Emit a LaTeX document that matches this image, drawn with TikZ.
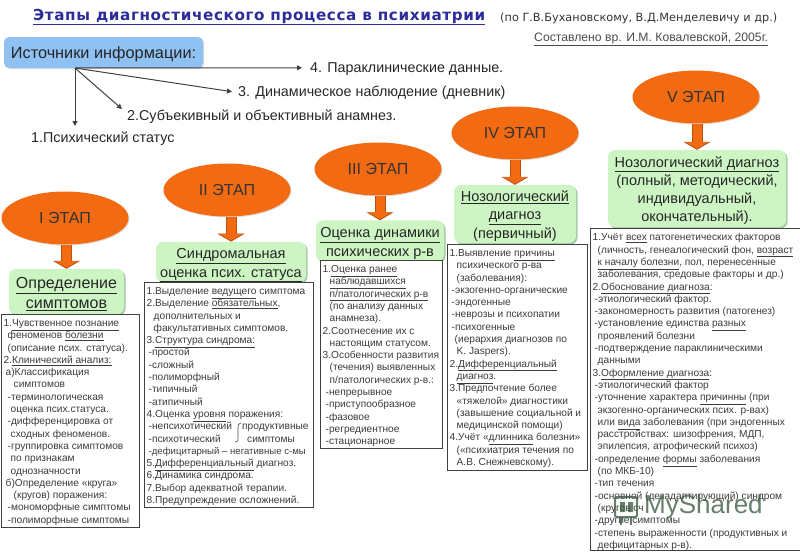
\documentclass[tikz,border=0pt]{standalone}
\usepackage{fontspec}
\setmainfont{Liberation Sans}
\newfontfamily\titlefont[LetterSpace=4]{DejaVu Sans}
\newfontfamily\subfont{DejaVu Sans}
\usetikzlibrary{arrows.meta,shadows,calc,shapes.geometric}
\definecolor{orangeE}{HTML}{F26A12}
\definecolor{orangeD}{HTML}{B9530F}
\definecolor{greenB}{HTML}{CDF5C4}
\definecolor{blueB}{HTML}{8FC1F2}
\definecolor{bodytxt}{HTML}{3C3C3C}
\definecolor{titleblue}{HTML}{2C2C9C}
\definecolor{wmcol}{HTML}{3F5F45}
\newcommand\und[1]{\underline{#1}}
\newcommand\ii[1]{\hspace*{#1pt}}
\newcommand\lift[1]{\rule{0pt}{#1pt}}
\tikzset{
 x=1pt,y=-1pt,
 stage/.style={ellipse,fill=orangeE,minimum width=127pt,minimum height=53pt,inner sep=0pt,text=black!80,font=\fontsize{16}{18}\selectfont,
   drop shadow={shadow xshift=1pt,shadow yshift=-1pt,opacity=.25}},
 goal/.style={rectangle,rounded corners=7pt,fill=greenB,align=center,inner sep=0pt,text=black!85,font=\fontsize{14.5}{18.3}\selectfont,
   drop shadow={shadow xshift=1.5pt,shadow yshift=-1.5pt,opacity=.35,fill=black!60!green}},
 detail/.style={rectangle,draw=black!75,line width=.8pt,fill=white,anchor=north west,inner sep=0pt},
 detailtext/.style={anchor=north west,align=left,inner sep=0pt,text=bodytxt,font=\fontsize{10.15}{12.3}\selectfont},
 blockarrow/.style={orangeD,line width=11pt,-{Triangle[length=8pt,width=27pt]},
   postaction={draw=orangeE,line width=9pt,shorten >=1.2pt,-{Triangle[length=6.6pt,width=23pt]}}},
 thin arrow/.style={draw=black!75,line width=1pt,-{Triangle[length=5pt,width=5pt]}},
 srclabel/.style={font=\fontsize{14.3}{16}\selectfont,text=black!85,inner ysep=0pt,text height=11pt,text depth=2pt},
}
\newcommand\detailblock[6]{%
  \node[detail,minimum width=#4pt,minimum height=#5pt] (#1) at (#2,#3) {};
  \node[detailtext] (#1t) at ($(#1.north west)+(2.5,5.3)$) {#6};}
\begin{document}
\begin{tikzpicture}
\useasboundingbox (0,0) rectangle (800,554);
% title
\node[anchor=west,inner sep=0pt,text=titleblue,font=\titlefont\fontsize{15.2}{17}\selectfont\bfseries] (title) at (33,17) {\und{Этапы диагностического процесса в психиатрии}};
\node[anchor=west,inner sep=0pt,text=black!80,font=\subfont\fontsize{11.3}{13}\selectfont] (credit) at (500,18) {(по Г.В.Бухановскому, В.Д.Менделевичу и др.)};
\node[anchor=west,inner sep=0pt,text=black!70,font=\fontsize{12.2}{14}\selectfont] (author) at (534,39) {\und{Составлено вр. И.М. Ковалевской, 2005г.}};
% sources
\node[rectangle,rounded corners=5pt,fill=blueB,minimum width=199pt,minimum height=31pt,inner sep=0pt,text=black!85,text height=13pt,text depth=1pt,font=\fontsize{16.3}{18}\selectfont,
  drop shadow={shadow xshift=1pt,shadow yshift=-1pt,opacity=.3}] (src) at (103.5,52.5) {Источники информации:};
\coordinate (hub) at (75,68);
\node[srclabel,anchor=west,inner xsep=8pt] (s4) at (302,67.8) {4. Параклинические данные.};
\node[srclabel,anchor=west,inner xsep=6pt] (s3) at (232,91.7) {3. Динамическое наблюдение (дневник)};
\node[srclabel,anchor=north west,inner xsep=5pt] (s2) at (122,109) {2.Субъекивный и объективный анамнез.};
\node[srclabel,anchor=west,inner xsep=0pt] (s1) at (31,138.3) {1.Психический статус};
\coordinate (s1top) at (75,126);
\draw[thin arrow] (hub) -- (s4.west);
\draw[thin arrow] (hub) -- (s3.west);
\draw[thin arrow] (hub) -- (s2.north west);
\draw[thin arrow] (hub) -- (s1top);
% stages
\node[stage] (e1) at (65,218) {I ЭТАП};
\node[stage] (e2) at (227,190) {II ЭТАП};
\node[stage] (e3) at (378,169) {III ЭТАП};
\node[stage] (e4) at (515,133) {IV ЭТАП};
\node[stage] (e5) at (696,97) {V ЭТАП};
% goals
\node[goal,minimum width=115pt,minimum height=45pt,font=\fontsize{16}{20}\selectfont] (g1) at (66.5,291.5) {\lift{16}\und{Определение}\\\und{симптомов}};
\node[goal,minimum width=150pt,minimum height=38pt] (g2) at (231,262) {\lift{17}\und{Синдромальная}\\\und{оценка псих. статуса}};
\node[goal,minimum width=128pt,minimum height=38pt,font=\fontsize{14.5}{19}\selectfont] (g3) at (380,241) {\lift{17}\und{Оценка динамики}\\\und{психических р-в}};
\node[goal,minimum width=122pt,minimum height=58pt] (g4) at (515,214) {\lift{15}\und{Нозологический}\\\und{диагноз}\\(первичный)};
\node[goal,minimum width=178pt,minimum height=77pt] (g5) at (697,188.5) {\lift{15}\und{Нозологический диагноз}\\(полный, методический,\\индивидуальный,\\окончательный).};
% block arrows
\draw[blockarrow] (g1.north |- e1.south) -- (g1.north);
\draw[blockarrow] (g2.north |- e2.south) -- (g2.north);
\draw[blockarrow] (g3.north |- e3.south) -- (g3.north);
\draw[blockarrow] (g4.north |- e4.south) -- (g4.north);
\draw[blockarrow] (g5.north |- e5.south) -- (g5.north);
% detail boxes
\detailblock{d1}{1}{314}{138}{213}{%
1.\und{Чувственное познание}\\
\ii{4}феноменов \und{болезни}\\
\ii{4}(описание псих. статуса).\\
2.\und{Клинический анализ:}\\
\ii{2}а)Классификация\\
\ii{10}симптомов\\
\ii{4}-терминологическая\\
\ii{7}оценка псих.статуса.\\
\ii{4}-дифференцировка от\\
\ii{7}сходных феноменов.\\
\ii{4}-группировка симптомов\\
\ii{7}по признакам\\
\ii{7}однозначности\\
\ii{2}б)Определение «круга»\\
\ii{10}(кругов) поражения:\\
\ii{4}-мономорфные симптомы\\
\ii{4}-полиморфные симптомы}
\detailblock{d2}{144}{282}{169}{225}{%
1.Выделение \und{ведущего} симптома\\
2.Выделение \und{обязательных},\\
\ii{7}дополнительных и\\
\ii{7}факультативных симптомов.\\
3.\und{Структура синдрома:}\\
\ii{2}-простой\\
\ii{2}-сложный\\
\ii{2}-полиморфный\\
\ii{2}-типичный\\
\ii{2}-атипичный\\
4.Оценка \und{уровня} поражения:\\
\ii{2}\makebox[93.5pt][l]{-непсихотический}продуктивные\\
\ii{2}\makebox[98.5pt][l]{-психотический}симптомы\\
\ii{2}{\fontsize{9.6}{12.3}\selectfont -дефицитарный -- негативные с-мы}\\
5.\und{Дифференциальный} диагноз.\\
6.Динамика синдрома.\\
7.Выбор адекватной терапии.\\
8.Предупреждение осложнений.}
\detailblock{d3}{320}{260}{122}{188}{%
1.\und{Оценка ранее}\\
\ii{7}\und{наблюдавшихся}\\
\ii{7}\und{п/патологических р-в}\\
\ii{7}(по анализу данных\\
\ii{7}анамнеза).\\
2.Соотнесение их с\\
\ii{7}настоящим статусом.\\
3.Особенности развития\\
\ii{7}(течения) выявленных\\
\ii{7}п/патологических р-в.:\\
\ii{3}-непрерывное\\
\ii{3}-приступообразное\\
\ii{3}-фазовое\\
\ii{3}-регредиентное\\
\ii{3}-стационарное}
\detailblock{d4}{447}{244}{140}{226}{%
1.Выявление \und{причины}\\
\ii{7}психического р-ва\\
\ii{7}(заболевания):\\
\ii{2}-экзогенно-органические\\
\ii{2}-эндогенные\\
\ii{2}-неврозы и психопатии\\
\ii{2}-психогенные\\
\ii{5}(иерархия диагнозов по\\
\ii{7}K. Jaspers).\\
2.\und{Дифференциальный}\\
\ii{7}\und{диагноз}.\\
3.Предпочтение более\\
\ii{7}«тяжелой» диагностики\\
\ii{7}(завышение социальной и\\
\ii{7}медицинской помощи)\\
4.Учёт «\und{длинника} болезни»\\
\ii{7}(«психиатрия течения по\\
\ii{7}А.В. Снежневскому).}
\detailblock{d5}{590}{228}{209.5}{322}{%
1.Учёт \und{всех} патогенетических факторов\\
\ii{5}(личность, генеалогический фон, \und{возраст}\\
\ii{5}\und{к началу болезни}, пол, перенесенные\\
\ii{5}заболевания, средовые факторы и др.)\\
2.\und{Обоснование диагноза}:\\
\ii{2}-этиологический фактор.\\
\ii{2}-закономерность развития (патогенез)\\
\ii{2}-установление единства \und{разных}\\
\ii{5}проявлений болезни\\
\ii{2}-подтверждение параклиническими\\
\ii{5}данными\\
3.\und{Оформление диагноза}:\\
\ii{2}-этиологический фактор\\
\ii{2}-уточнение характера \und{причинны} (при\\
\ii{5}экзогенно-органических псих. р-вах)\\
\ii{5}или \und{вида} заболевания (при эндогенных\\
\ii{5}расстройствах: шизофрения, МДП,\\
\ii{5}эпилепсия, атрофический психоз)\\
\ii{2}-определение \und{формы} заболевания\\
\ii{5}(по МКБ-10)\\
\ii{2}-тип течения\\
\ii{2}-основной (дезадаптирующий) синдром\\
\ii{5}(кругов сч\\
\ii{2}-другие симптомы\\
\ii{2}-степень выраженности (продуктивных и\\
\ii{5}дефицитарных р-в).}
% brace in box II
\draw[black!70,line width=.6pt] (241,423) .. controls (238,423) and (238,425) .. (238,428) -- (238,438) .. controls (238,441) and (238,442) .. (235,442);
% watermark
\begin{scope}[wmcol,opacity=.8]
\draw[line width=2pt,rounded corners=2pt] (615,497) rectangle (637,517);
\fill (620,502) rectangle (625,512) (628,502) rectangle (633,512);
\draw[line width=2pt] (621,517) -- (621,525) (631,517) -- (631,525);
\node[anchor=west,inner sep=0pt,font=\fontsize{26}{30}\selectfont] (wm) at (644,507) {MyShared};
\end{scope}
\end{tikzpicture}
\end{document}
